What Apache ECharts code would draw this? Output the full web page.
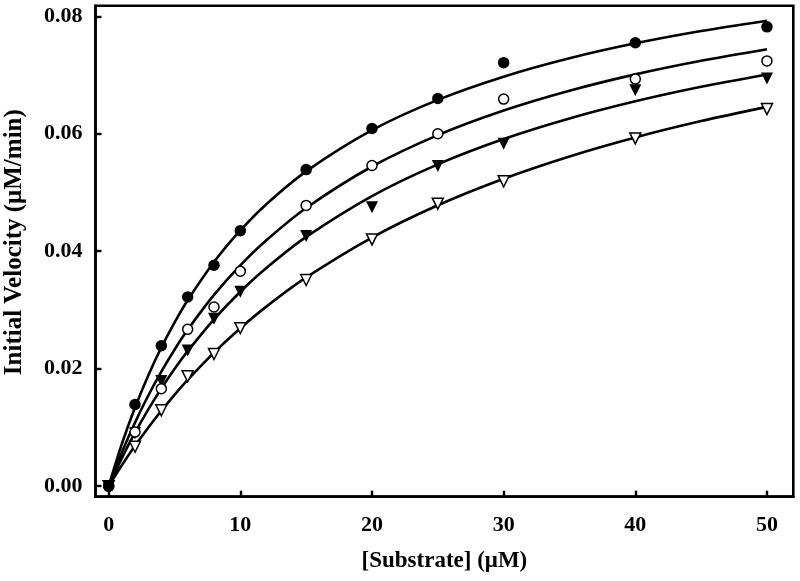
<!DOCTYPE html>
<html>
<head>
<meta charset="utf-8">
<script src="https://cdn.jsdelivr.net/npm/echarts@6/dist/echarts.min.js"></script>
<style>
html,body{margin:0;padding:0;background:#fff;}
#chart{width:800px;height:581px;}
</style>
</head>
<body>
<div id="chart"></div>
<script>
// Measured data points
const substrate = [0, 2, 4, 6, 8, 10, 15, 20, 25, 30, 40, 50];
const filledCircle = [0, 0.0139, 0.0239, 0.0322, 0.0376, 0.0435, 0.0539, 0.0609, 0.0660, 0.0721, 0.0755, 0.0782];
const openCircle   = [0, 0.0092, 0.0166, 0.0267, 0.0305, 0.0366, 0.0478, 0.0546, 0.0600, 0.0659, 0.0693, 0.0724];
const filledTri    = [0, 0.0090, 0.0179, 0.0231, 0.0285, 0.0331, 0.0426, 0.0475, 0.0545, 0.0583, 0.0674, 0.0694];
const openTri      = [0, 0.0067, 0.0129, 0.0187, 0.0225, 0.0269, 0.0351, 0.0420, 0.0481, 0.0519, 0.0592, 0.0642];

// Fitted curves
const curveX = [0, 1, 2, 3, 4, 5, 6, 8, 10, 12, 15, 20, 25, 30, 35, 40, 45, 50];
const curve1 = [0, 0.00717, 0.01338, 0.01881, 0.02360, 0.02785, 0.03165, 0.03816, 0.04354, 0.04805, 0.05360, 0.06061, 0.06577, 0.06972, 0.07285, 0.07539, 0.07749, 0.07925];
const curve2 = [0, 0.00573, 0.01082, 0.01539, 0.01950, 0.02323, 0.02662, 0.03256, 0.03760, 0.04191, 0.04736, 0.05442, 0.05977, 0.06396, 0.06733, 0.07011, 0.07243, 0.07440];
const curve3 = [0, 0.00477, 0.00909, 0.01303, 0.01663, 0.01994, 0.02298, 0.02841, 0.03310, 0.03718, 0.04243, 0.04939, 0.05479, 0.05909, 0.06260, 0.06552, 0.06799, 0.07010];
const curve4 = [0, 0.00355, 0.00686, 0.00995, 0.01284, 0.01555, 0.01809, 0.02274, 0.02689, 0.03061, 0.03553, 0.04233, 0.04782, 0.05234, 0.05614, 0.05937, 0.06215, 0.06457];

const xTicks = [0, 10, 20, 30, 40, 50];
const yTicks = [0, 0.02, 0.04, 0.06, 0.08];

const pair = (xs, ys) => xs.map((x, i) => [x, ys[i]]);
const font = 'Liberation Serif';

function curveSeries(ys) {
  return {
    type: 'line', data: pair(curveX, ys), smooth: 0.3, showSymbol: false,
    lineStyle: {color: '#000', width: 2.6}, z: 2, silent: true
  };
}
function pointSeries(ys, symbol, filled, size, rotate) {
  return {
    type: 'scatter', data: pair(substrate, ys), symbol: symbol, symbolSize: size,
    symbolRotate: rotate || 0,
    itemStyle: {color: filled ? '#000' : '#fff', borderColor: '#000', borderWidth: filled ? 0 : 1.5, opacity: 1},
    z: 3
  };
}

const chart = echarts.init(document.getElementById('chart'));
chart.setOption({
  backgroundColor: '#fff',
  animation: false,
  grid: {left: 95.5, right: 6.7, top: 5.7, bottom: 84.3, show: true, borderColor: '#000', borderWidth: 2.6,
    containLabel: false, outerBoundsMode: 'none'},
  xAxis: {
    type: 'value', min: -1, max: 52, interval: 10,
    axisLine: {show: true, onZero: false, lineStyle: {color: '#000', width: 2.6}},
    axisTick: {show: true, inside: true, length: 6, lineStyle: {color: '#000', width: 2.4},
      customValues: xTicks},
    axisLabel: {customValues: xTicks, color: '#000', fontFamily: font, fontWeight: 'bold', fontSize: 22, margin: 18},
    splitLine: {show: false},
    name: '[Substrate] (\u03BCM)', nameLocation: 'middle', nameGap: 53,
    nameTextStyle: {color: '#000', fontFamily: font, fontWeight: 'bold', fontSize: 23}
  },
  yAxis: {
    type: 'value', min: -0.0018, max: 0.0818,
    axisLine: {show: true, onZero: false, lineStyle: {color: '#000', width: 2.6}},
    axisTick: {show: true, inside: true, length: 6, lineStyle: {color: '#000', width: 2.4},
      customValues: yTicks},
    axisLabel: {customValues: yTicks, color: '#000', fontFamily: font, fontWeight: 'bold', fontSize: 22, margin: 13,
      formatter: v => v.toFixed(2)},
    splitLine: {show: false},
    name: 'Initial Velocity (\u03BCM/min)', nameLocation: 'middle', nameGap: 68,
    nameTextStyle: {color: '#000', fontFamily: font, fontWeight: 'bold', fontSize: 25, padding: [0, 0, 0, 18]}
  },
  series: [
    curveSeries(curve1), curveSeries(curve2), curveSeries(curve3), curveSeries(curve4),
    pointSeries(openTri, 'triangle', false, 11, 180),
    pointSeries(filledTri, 'triangle', true, 12, 180),
    pointSeries(openCircle, 'circle', false, 10),
    pointSeries(filledCircle, 'circle', true, 11.5)
  ]
});
</script>
</body>
</html>
